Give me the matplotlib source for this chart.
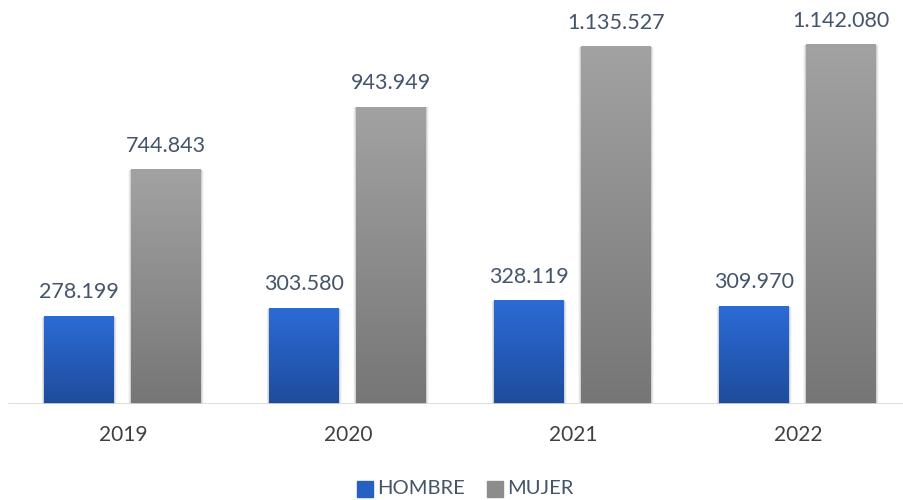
import numpy as np
import matplotlib
matplotlib.use("Agg")
import matplotlib.pyplot as plt
from matplotlib.patches import Rectangle
from matplotlib.colors import LinearSegmentedColormap

years = ["2019", "2020", "2021", "2022"]
hombre = [278199, 303580, 328119, 309970]
mujer = [744843, 943949, 1135527, 1142080]

def fmt(v):
    return f"{v:,}".replace(",", ".")

plt.rcParams["font.family"] = ["Lato", "DejaVu Sans"]
txt = "#44546A"

fig = plt.figure(figsize=(9.04, 5.0), dpi=100)
ax = fig.add_axes([0, 0.192, 1, 0.808])
ax.set_xlim(-0.5467, 3.471)
ax.set_ylim(0, 1285000)
ax.axis("off")

blue = LinearSegmentedColormap.from_list("b", ["#1E4C9C", "#2B6BD6"])
gray = LinearSegmentedColormap.from_list("g", ["#767676", "#A2A2A2"])
grad = np.linspace(0, 1, 256).reshape(-1, 1)

w = 0.31
x = np.arange(len(years))
for vals, off, cmap in [(hombre, -0.195, blue), (mujer, 0.191, gray)]:
    for xi, v in zip(x, vals):
        x0 = xi + off - w / 2
        # soft shadow
        for k, a in enumerate([0.10, 0.06, 0.03]):
            d = 0.004 * (k + 1)
            ax.add_patch(Rectangle((x0 - d, -6000), w + 2 * d, v + 6000 + d * 8000,
                                   color="#000000", alpha=a, lw=0, zorder=1))
        ax.imshow(grad, cmap=cmap, origin="lower", aspect="auto",
                  extent=(x0, x0 + w, 0, v), zorder=2)
        ax.text(xi + off, v + 45000, fmt(v), ha="center", va="bottom",
                fontsize=15.5, color=txt)

ax.set_xlim(-0.5467, 3.471)
ax.set_ylim(0, 1285000)
ax.axhline(0, xmin=0.01, xmax=1, color="#D9D9D9", lw=1.2, zorder=3)

for xi, y in zip(x, years):
    ax.text(xi, -100000, y, ha="center", va="center", fontsize=15, color="#404040")

# legend
fig.patches.append(Rectangle((357 / 904, 1 - 497 / 500), 16 / 904, 16 / 500,
                             transform=fig.transFigure, color="#2660C4"))
fig.text(377 / 904, 1 - 489 / 500, "HOMBRE", ha="left", va="center",
         fontsize=14.5, color=txt)
fig.patches.append(Rectangle((487 / 904, 1 - 497 / 500), 16 / 904, 16 / 500,
                             transform=fig.transFigure, color="#8C8C8C"))
fig.text(507 / 904, 1 - 489 / 500, "MUJER", ha="left", va="center",
         fontsize=14.5, color=txt)

fig.savefig("out.png", dpi=100)
